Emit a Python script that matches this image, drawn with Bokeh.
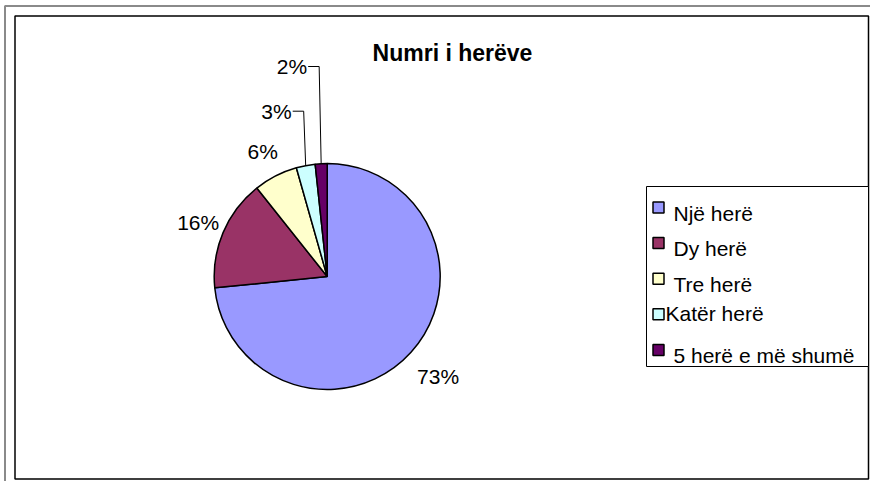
import math
from bokeh.plotting import figure
from bokeh.models import Range1d, ColumnDataSource
from bokeh.core.properties import value
from bokeh.embed import file_html
from bokeh.resources import INLINE

# ---------------- data ----------------
title_text = "Numri i herëve"
categories = ["Një herë", "Dy herë", "Tre herë", "Katër herë", "5 herë e më shumë"]
shares = [73.4, 15.9, 6.3, 2.7, 1.7]          # percent of answers
colors = ["#9999FF", "#993366", "#FFFFCC", "#CCFFFF", "#660066"]

# ---------------- layout (pixel coords, y measured downward -> data) ----------------
W, H = 870, 481
FONT = "Liberation Sans"


def Y(py):
    return H - py


p = figure(width=W, height=H, x_range=Range1d(0, W), y_range=Range1d(0, H),
           x_axis_type=None, y_axis_type=None, toolbar_location=None,
           output_backend="svg", min_border=0)
p.grid.visible = False
p.outline_line_color = None
p.background_fill_color = "white"
p.border_fill_color = "white"

# outer gray frame and chart-area frame
p.multi_line(xs=[[4.5, 4.5, 870]], ys=[[Y(481), Y(5.5), Y(5.5)]],
             line_color="#8a8a8a", line_width=2)
p.quad(left=[14.5], right=[868], top=[Y(15.5)], bottom=[Y(478.5)],
       fill_color=None, line_color="black", line_width=1.5)

# ---------------- pie ----------------
cx, cy, R = 326.7, Y(276), 113
total = sum(shares)
cum = [0.0]
for s in shares:
    cum.append(cum[-1] + s / total)
start_cw = [c * 360 for c in cum[:-1]]
end_cw = [c * 360 for c in cum[1:]]
mid_cw = [(a + b) / 2 for a, b in zip(start_cw, end_cw)]

src = ColumnDataSource(dict(
    start=[math.radians(90 - a) for a in start_cw],
    end=[math.radians(90 - b) for b in end_cw],
    color=colors, cat=categories))
p.wedge(x=cx, y=cy, radius=R, start_angle="start", end_angle="end",
        direction="clock", fill_color="color", line_color="black",
        line_width=1.5, source=src)

labels = [f"{round(s)}%" for s in shares]

# outside labels for the larger slices
out_idx = [0, 1, 2]
out_dist = [149.5, 140, 141]
lx, ly, lt = [], [], []
for i, d in zip(out_idx, out_dist):
    a = math.radians(mid_cw[i])
    lx.append(cx + d * math.sin(a))
    ly.append(cy + d * math.cos(a))
    lt.append(labels[i])
p.text(x=lx, y=ly, text=lt, text_font=value(FONT), text_font_size="21px",
       text_align="center", text_baseline="middle", text_color="black")

# small slices: labels with leader lines
lead_idx = [3, 4]
lead_level = [110.7, 66]       # pixel y of label middle
xs, ys, tx, ty, tt = [], [], [], [], []
for i, lev in zip(lead_idx, lead_level):
    a = math.radians(mid_cw[i])
    sx = cx + R * math.sin(a)
    sy = cy + R * math.cos(a)
    ex = sx - 2
    xs.append([sx, ex, ex - 11])
    ys.append([sy, Y(lev), Y(lev)])
    tx.append(ex - 12)
    ty.append(Y(lev))
    tt.append(labels[i])
p.multi_line(xs=xs, ys=ys, line_color="black", line_width=1)
p.text(x=tx, y=ty, text=tt, text_font=value(FONT), text_font_size="21px",
       text_align="right", text_baseline="middle", text_color="black")

# title
p.text(x=[452], y=[Y(52.7)], text=[title_text], text_font=value(FONT),
       text_font_size="23px", text_font_style="bold", text_align="center",
       text_baseline="alphabetic", text_color="black")

# ---------------- legend ----------------
p.quad(left=[646], right=[868], top=[Y(186)], bottom=[Y(366)],
       fill_color="white", line_color="black", line_width=1)
n = len(categories)
sq_y = [Y(207 + 35.6 * i) for i in range(n)]
txt_dx = [0, 0, 0, -8, 0]
txt_dy = [5.5, 5.5, 5.5, -0.5, 5.5]
leg = ColumnDataSource(dict(
    sx=[658] * n, sy=sq_y, color=colors, cat=categories,
    tx=[673 + dx for dx in txt_dx],
    ty=[y - dy for y, dy in zip(sq_y, txt_dy)]))
p.rect(x="sx", y="sy", width=11, height=11, fill_color="color",
       line_color="black", line_width=1.5, source=leg)
p.text(x="tx", y="ty", text="cat", text_font=value(FONT), text_font_size="21px",
       text_align="left", text_baseline="alphabetic", text_color="black",
       source=leg)

open("out.html", "w").write(file_html(p, INLINE))
